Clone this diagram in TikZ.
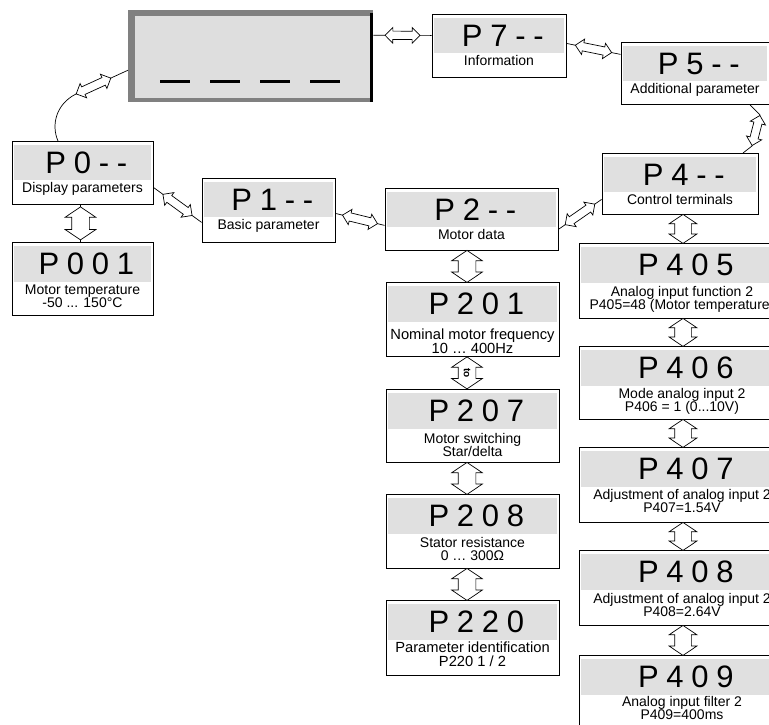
\documentclass[tikz,border=0pt]{standalone}
\usepackage{fontspec}
\setmainfont{Liberation Sans}
\newfontfamily\titlefont[LetterSpace=25]{Liberation Sans}
\usetikzlibrary{shapes.arrows,calc}
\definecolor{bandgray}{HTML}{E0E0E0}
\definecolor{lcdgray}{HTML}{DEDEDE}
\definecolor{framegray}{HTML}{808080}
\tikzset{
  pbox/.style={rectangle, draw=black, line width=0.8pt, fill=white, inner sep=0pt},
  ptitle/.style={font=\titlefont\fontsize{31}{31}\selectfont, inner sep=0pt},
  psub/.style={font=\fontsize{14}{16}\selectfont, inner sep=0pt, anchor=base},
  psubbig/.style={psub, font=\fontsize{14.7}{16}\selectfont},
  conn/.style={draw=black, line width=0.7pt},
  harr/.style={double arrow, draw=black, fill=white, line width=0.7pt, inner xsep=0pt, inner ysep=3.8pt,
    double arrow head extend=3.7pt, minimum height=36pt, minimum width=15pt, sloped},
  varr/.style={double arrow, draw=black, fill=white, line width=0.7pt, inner xsep=0pt, inner ysep=8.5pt,
    double arrow head extend=6.5pt, double arrow tip angle=112, minimum height=31pt, minimum width=30pt, sloped},
  varrb/.style={varr, minimum width=27pt, double arrow head extend=5.5pt, inner ysep=8pt},
  tolabel/.style={font=\fontsize{10}{10}\bfseries, inner sep=0pt, rotate=-90},
}
% single-line box: name, cx, top, width, height, title, text
\newcommand\pboxA[7]{%
  \node[pbox, minimum width=#4pt, minimum height=#5pt, anchor=north] (#1) at (#2,#3) {};
  \fill[bandgray] ([xshift=2pt,yshift=-4pt]#1.north west) rectangle ([xshift=-2pt,yshift=-39pt]#1.north east);
  \node[ptitle] (#1t) at ([yshift=-21.5pt]#1.north) {#6\kern-0.25em};
  \node[psub] (#1s) at ([yshift=-51pt]#1.north) {#7};
}
% two-line box: name, cx, top, width, height, title, line1, line2, offset of line1
\newcommand\pboxB[9]{%
  \node[pbox, minimum width=#4pt, minimum height=#5pt, anchor=north] (#1) at (#2,#3) {};
  \fill[bandgray] ([xshift=2pt,yshift=-4pt]#1.north west) rectangle ([xshift=-2pt,yshift=-40pt]#1.north east);
  \node[ptitle] (#1t) at ([yshift=-22pt]#1.north) {#6\kern-0.25em};
  \node[psub] (#1a) at ([yshift=-#9pt]#1.north) {#7};
  \node[psub] (#1b) at ([yshift=-#9pt-13pt]#1.north) {#8};
}
% same with slightly larger text
\newcommand\pboxC[9]{%
  \node[pbox, minimum width=#4pt, minimum height=#5pt, anchor=north] (#1) at (#2,#3) {};
  \fill[bandgray] ([xshift=2pt,yshift=-4pt]#1.north west) rectangle ([xshift=-2pt,yshift=-40pt]#1.north east);
  \node[ptitle] (#1t) at ([yshift=-22pt]#1.north) {#6\kern-0.25em};
  \node[psubbig] (#1a) at ([yshift=-#9pt]#1.north) {#7};
  \node[psubbig] (#1b) at ([yshift=-#9pt-14pt]#1.north) {#8};
}
\begin{document}
\begin{tikzpicture}[x=1pt,y=-1pt]
\useasboundingbox (0,0) rectangle (769,724);
\fill[white] (0,0) rectangle (769,724);
\clip (0,0) rectangle (769,724);

% display
\node[rectangle, fill=framegray, inner sep=0pt, minimum width=245pt, minimum height=92pt, anchor=north west] (disp) at (128,10) {};
\fill[lcdgray] (135,16) rectangle (370,98);
\fill[black] (370,13) rectangle (373,102);
\foreach \xa in {160,210,260,310}{\draw[line width=3pt] (\xa,81) -- (\xa+30,81);}

% boxes
\pboxA{p0}{82.5}{141}{141}{63}{P0-{}-}{Display parameters}
\pboxB{p001}{82.5}{242}{141}{73}{P001}{Motor temperature}{-50 ... 150°C}{52}
\pboxA{p1}{268.5}{178}{133}{64}{P1-{}-}{Basic parameter}
\pboxA{p2}{471.5}{188}{173}{62}{P2-{}-}{Motor data}
\pboxC{p201}{472.5}{282}{173}{74}{P201}{Nominal motor frequency}{10 … 400Hz}{57}
\pboxB{p207}{472.5}{389}{173}{73}{P207}{Motor switching}{Star/delta}{54}
\pboxB{p208}{472.5}{494}{173}{74}{P208}{Stator resistance}{0 … 300Ω}{53}
\pboxC{p220}{472.5}{600}{173}{75}{P220}{Parameter identification}{P220 1 / 2}{52}
\pboxA{p7}{499}{14}{134}{63}{P7-{}-}{Information}
\pboxA{p5}{695}{42}{148}{62}{P5-{}-}{Additional parameter}
\pboxA{p4}{680}{153}{156}{61}{P4-{}-}{Control terminals}
\pboxB{p405}{682}{243}{206}{75}{P405}{Analog input function 2}{P405=48 (Motor temperature)}{53}
\pboxB{p406}{682}{346}{206}{73}{P406}{Mode analog input 2}{P406 = 1 (0...10V)}{52}
\pboxB{p407}{682}{447}{206}{75}{P407}{Adjustment of analog input 2}{P407=1.54V}{52}
\pboxB{p408}{682}{550}{206}{75}{P408}{Adjustment of analog input 2}{P408=2.64V}{53}
\pboxB{p409}{682}{655}{206}{75}{P409}{Analog input filter 2}{P409=400ms}{51}

% horizontal / sloped connectors
\draw[conn] ([yshift=21pt]disp.east) -- node[harr, minimum height=35pt]{} ([yshift=10.5pt]p7.west);
\draw[conn] ([yshift=2.5pt]p7.east) -- node[harr, minimum height=37pt]{} ([yshift=19pt]p5.west);
\coordinate (c1) at (760,115);
\coordinate (c2) at (752,146);
\draw[conn] ([xshift=55pt]p5.south) -- (c1) -- node[harr, minimum height=31pt]{} (c2) -- ([xshift=63pt]p4.north);
\draw[conn] ([yshift=-10pt]p2.east) -- node[harr, minimum height=36pt]{} ([yshift=-15.5pt]p4.west);
\draw[conn] ([yshift=-6pt]p2.west) -- node[harr, minimum height=36pt]{} ([yshift=-3pt]p1.east);
\draw[conn] ([yshift=-14.5pt]p0.east) -- node[harr, minimum height=36pt]{} ([yshift=-12pt]p1.west);
\coordinate (c3) at (76,94);
\coordinate (c4) at (111,78);
\draw[conn] ([xshift=-24.5pt]p0.north) .. controls (51,125) and (56,104) .. (c3) -- node[harr, minimum height=38pt]{} (c4) -- ([yshift=-14pt]disp.west);

% vertical connectors
\draw[conn] ([xshift=-2pt]p0.south) -- node[varr, minimum height=33pt]{} ([xshift=-2pt]p001.north);
\draw[conn] ([xshift=-4.5pt]p2.south) -- node[varr, minimum height=32pt]{} ([xshift=-5.5pt]p201.north);
\draw[conn] ([xshift=-5.5pt]p201.south) -- node[varr, minimum height=32pt]{} node[tolabel] (tol) {to} ([xshift=-5.5pt]p207.north);
\draw[conn] ([xshift=-5.5pt]p207.south) -- node[varr, minimum height=32pt]{} ([xshift=-5.5pt]p208.north);
\draw[conn] ([xshift=-5.5pt]p208.south) -- node[varr, minimum height=32pt]{} ([xshift=-5.5pt]p220.north);
\draw[conn] ([xshift=3pt]p4.south) -- node[varrb, minimum height=29pt]{} ([xshift=1pt]p405.north);
\draw[conn] ([xshift=1pt]p405.south) -- node[varrb, minimum height=28pt]{} ([xshift=1pt]p406.north);
\draw[conn] ([xshift=1pt]p406.south) -- node[varrb, minimum height=28pt]{} ([xshift=1pt]p407.north);
\draw[conn] ([xshift=1pt]p407.south) -- node[varrb, minimum height=28pt]{} ([xshift=1pt]p408.north);
\draw[conn] ([xshift=1pt]p408.south) -- node[varrb, minimum height=30pt]{} ([xshift=1pt]p409.north);
\end{tikzpicture}
\end{document}
